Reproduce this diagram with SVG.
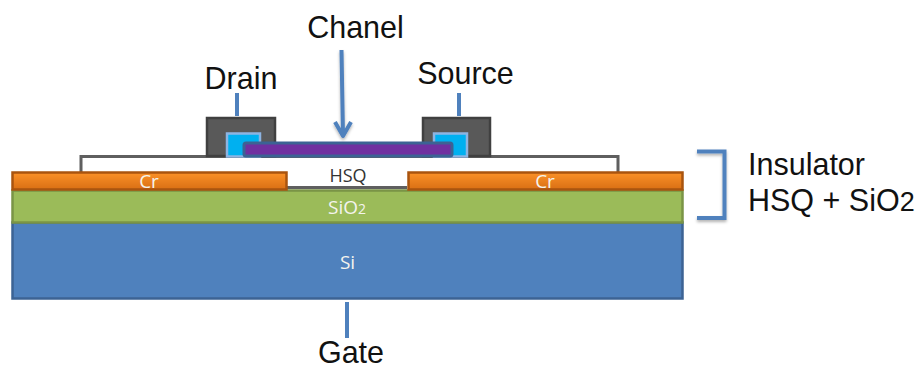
<svg xmlns="http://www.w3.org/2000/svg" width="917" height="365" viewBox="0 0 917 365">
<style>
.lbl{font-family:"Liberation Sans",Arial,sans-serif;font-size:30.500px;fill:#111}
.in{font-family:"Open Sans","Noto Sans",sans-serif;font-size:19px;text-anchor:middle;fill:#f4f4ee}
.ln{fill:none;stroke:#4f81bd;stroke-width:4}
.sd{filter:url(#sh)}
</style>
<defs>
<linearGradient id="or" x1="0" y1="0" x2="0" y2="1"><stop offset="0" stop-color="#fb9128"/><stop offset="1" stop-color="#d96f14"/></linearGradient>
<filter id="sh" filterUnits="userSpaceOnUse" x="0" y="0" width="917" height="365"><feDropShadow dx="0" dy="2" stdDeviation="1.500" flood-color="#000" flood-opacity="0.300"/></filter>
</defs>
<rect width="917" height="365" fill="#fff"/>
<g id="hsq">
<path d="M81 172V156.500H618V172M287 187.500H407" fill="#fff" stroke="#5f5f5f" stroke-width="3"/>
<rect x="83" y="158" width="533" height="16" fill="#fff"/>
<rect x="287" y="172" width="120" height="14" fill="#fff"/>
<text x="348" y="182" font-family="Open Sans,Noto Sans,sans-serif" font-size="18" text-anchor="middle" fill="#333">HSQ</text>
</g>
<g id="si"><rect x="12.500" y="222.500" width="670" height="76" fill="#4f81bd" stroke="#3c6394" stroke-width="2.500"/><text class="in" x="347.500" y="269" font-size="20">Si</text></g>
<g id="sio2"><rect x="12.500" y="190.500" width="670" height="32" fill="#9bbb59" stroke="#7a9446" stroke-width="2.500"/><text class="in" x="347" y="214">SiO<tspan font-size="14">2</tspan></text></g>
<g id="cr-left"><rect x="12.500" y="172.500" width="274" height="17" fill="url(#or)" stroke="#a9540f" stroke-width="2.500"/><text class="in" x="149" y="188">Cr</text></g>
<g id="cr-right"><rect x="408.500" y="172.500" width="274" height="17" fill="url(#or)" stroke="#a9540f" stroke-width="2.500"/><text class="in" x="545" y="188">Cr</text></g>
<g id="drain-contact">
<rect x="207" y="118" width="68" height="38" fill="#595959" stroke="#404040" stroke-width="2.500"/>
<rect x="227" y="133.500" width="33" height="23" fill="#00b0f0" stroke="#8db4e2" stroke-width="2.500"/>
</g>
<g id="source-contact">
<rect x="423" y="118" width="67" height="38" fill="#595959" stroke="#404040" stroke-width="2.500"/>
<rect x="434" y="133.500" width="33" height="23" fill="#00b0f0" stroke="#8db4e2" stroke-width="2.500"/>
</g>
<g id="channel"><rect x="244" y="143" width="208" height="13" rx="2" fill="#7030a0" stroke="#3c6394" stroke-width="3"/></g>
<g id="connectors">
<path class="ln" d="M237 93V116"/>
<path class="ln" d="M459 93V116"/>
<path class="ln sd" stroke-linejoin="round" d="M341.500 50L343 136M335 122L343 136L351 122"/>
<path class="ln" d="M347 302V338"/>
<path class="ln sd" d="M697 151.500H724.500V218H697"/>
</g>
<g id="labels">
<text class="lbl" x="355.500" y="37.500" text-anchor="middle">Chanel</text>
<text class="lbl" x="241" y="88.500" text-anchor="middle">Drain</text>
<text class="lbl" x="465.500" y="84" text-anchor="middle">Source</text>
<text class="lbl" x="351" y="363" text-anchor="middle">Gate</text>
<text class="lbl" x="748" y="175">Insulator</text>
<text class="lbl" x="748" y="211">HSQ + SiO<tspan font-size="27">2</tspan></text>
</g>
</svg>
